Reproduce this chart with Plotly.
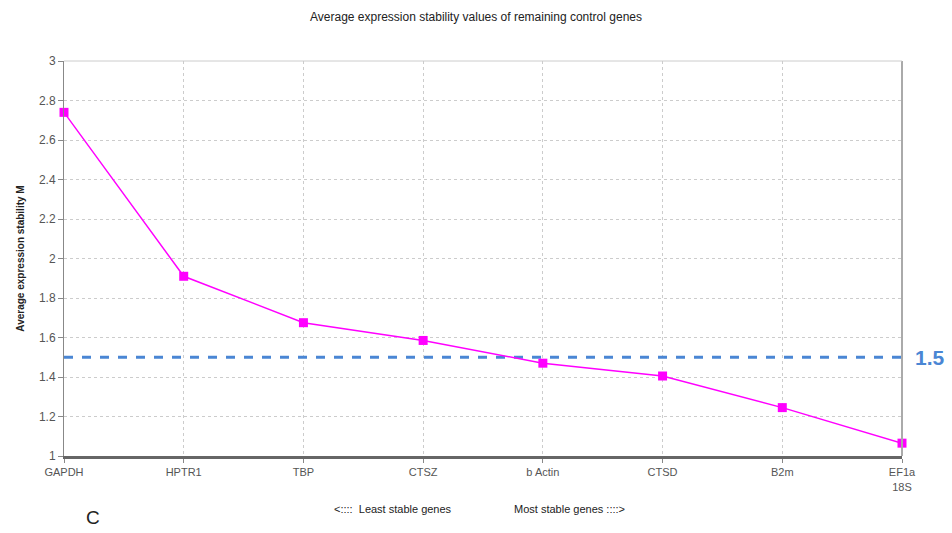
import plotly.graph_objects as go

genes = ["GAPDH", "HPTR1", "TBP", "CTSZ", "b Actin", "CTSD", "B2m", "EF1a<br>18S"]
m_values = [2.74, 1.91, 1.675, 1.585, 1.47, 1.405, 1.245, 1.065]
threshold = 1.5
y_ticks = [1, 1.2, 1.4, 1.6, 1.8, 2, 2.2, 2.4, 2.6, 2.8, 3]
y_tick_labels = ["1", "1.2", "1.4", "1.6", "1.8", "2", "2.2", "2.4", "2.6", "2.8", "3"]

xs = list(range(len(genes)))
fig = go.Figure()
fig.add_trace(go.Scatter(
    x=xs, y=[threshold] * len(xs), mode="lines",
    line=dict(color="#4a86d4", width=3, dash="dash"),
    hoverinfo="skip", showlegend=False, cliponaxis=False))
fig.add_trace(go.Scatter(
    x=xs, y=m_values, mode="lines+markers",
    line=dict(color="#ff00ff", width=1.5),
    marker=dict(symbol="square", size=9, color="#ff00ff"),
    showlegend=False, cliponaxis=False))

fig.update_layout(
    width=952, height=533,
    margin=dict(l=64, r=50, t=61, b=77),
    paper_bgcolor="white", plot_bgcolor="white",
    font=dict(family="Liberation Sans, Arial, sans-serif", size=11, color="#555"),
    title=dict(text="Average expression stability values of remaining control genes",
               x=0.5, xanchor="center", y=0.968, yanchor="middle",
               font=dict(size=12, color="#222")),
    xaxis=dict(tickmode="array", tickvals=xs, ticktext=genes, range=[0, 7],
               showgrid=True, gridcolor="#cccccc", griddash="dot", gridwidth=1,
               showline=True, linecolor="#666", linewidth=3,
               ticks="outside", ticklen=4, tickcolor="#888",
               tickfont=dict(size=11, color="#555"), zeroline=False, mirror=False),
    yaxis=dict(tickmode="array", tickvals=y_ticks, ticktext=y_tick_labels, range=[1, 3],
               showgrid=True, gridcolor="#cccccc", griddash="dot", gridwidth=1,
               showline=True, linecolor="#888", linewidth=1,
               ticks="outside", ticklen=5, tickcolor="#888",
               tickfont=dict(size=12, color="#555"), zeroline=False,
               title=dict(text="<b>Average expression stability M</b>",
                          font=dict(size=10, color="#222"), standoff=12)),
)
# right border and top border
fig.add_shape(type="line", xref="paper", yref="paper", x0=1, x1=1, y0=0, y1=1,
              line=dict(color="#aaaaaa", width=2))
fig.add_shape(type="line", xref="paper", yref="paper", x0=0, x1=1, y0=1, y1=1,
              line=dict(color="#cccccc", width=1))

fig.add_annotation(text="<b>1.5</b>", x=1.013, xref="paper", y=threshold, yref="y",
                   xanchor="left", yanchor="middle", showarrow=False,
                   font=dict(size=21, color="#4a86d4", family="Liberation Sans, Arial"))
fig.add_annotation(text="&lt;::::  Least stable genes", x=0.465, xref="paper",
                   y=-0.135, yref="paper", xanchor="right", yanchor="middle", showarrow=False,
                   font=dict(size=11, color="#222"))
fig.add_annotation(text="Most stable genes ::::&gt;", x=0.535, xref="paper",
                   y=-0.135, yref="paper", xanchor="left", yanchor="middle", showarrow=False,
                   font=dict(size=11, color="#222"))
fig.add_annotation(text="C", x=0.035, xref="paper", y=-0.155, yref="paper",
                   xanchor="center", yanchor="middle", showarrow=False,
                   font=dict(size=19, color="#222", family="Liberation Sans, Arial"))

fig.write_html("out.html")
